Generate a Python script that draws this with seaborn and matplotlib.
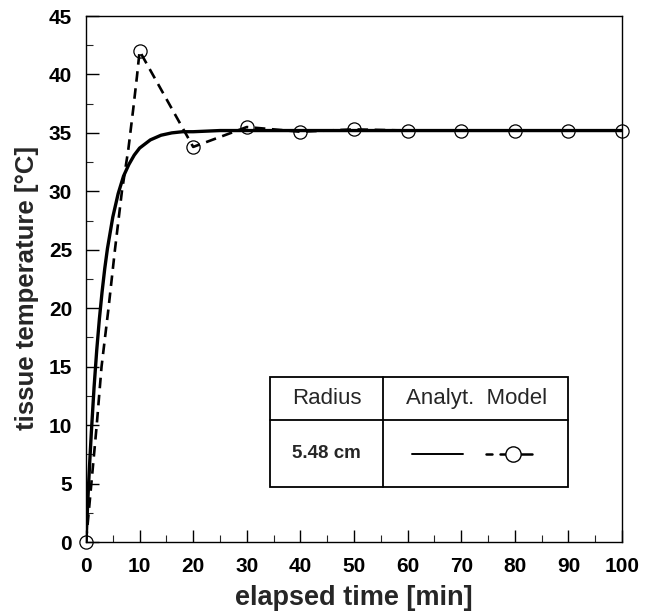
import matplotlib
matplotlib.use("Agg")
import matplotlib.pyplot as plt
import seaborn as sns
import pandas as pd
from matplotlib.patches import Rectangle
from matplotlib.lines import Line2D

sns.set_theme(style="white")
plt.rcParams['font.family'] = ['Liberation Sans', 'DejaVu Sans']

# Analytical solution
t_analyt = [0, 0.25, 0.5, 0.75, 1, 1.5, 2, 2.5, 3, 3.5, 4, 5, 6, 7, 8, 9, 10, 12, 14, 16, 18, 20,
            25, 30, 40, 50, 60, 70, 80, 90, 100]
T_analyt = [0, 2.6, 5.1, 7.3, 9.4, 13.2, 16.4, 19.1, 21.4, 23.4, 25.1, 27.8, 29.8, 31.3, 32.3, 33.1,
            33.7, 34.4, 34.8, 35.0, 35.1, 35.1, 35.2, 35.2, 35.2, 35.2, 35.2, 35.2, 35.2, 35.2, 35.2]

# Model (dashed line, finer in first interval)
t_model = [0, 1, 2, 2.9, 4.2, 5.4, 6.7, 7.9, 8.8, 9.5, 10, 20, 30, 40, 50, 60, 70, 80, 90, 100]
T_model = [0, 5, 10, 15, 20, 25, 30, 33.6, 37, 39.8, 42, 33.8, 35.5, 35.1, 35.3, 35.2, 35.2, 35.2, 35.2, 35.2]

# Model markers every 10 min
t_mark = [0, 10, 20, 30, 40, 50, 60, 70, 80, 90, 100]
T_mark = [0, 42, 33.8, 35.5, 35.1, 35.3, 35.2, 35.2, 35.2, 35.2, 35.2]

x_ticks = [0, 10, 20, 30, 40, 50, 60, 70, 80, 90, 100]
y_ticks = [0, 5, 10, 15, 20, 25, 30, 35, 40, 45]

df_a = pd.DataFrame({"t": t_analyt, "T": T_analyt})
df_m = pd.DataFrame({"t": t_model, "T": T_model})
df_k = pd.DataFrame({"t": t_mark, "T": T_mark})

fig = plt.figure(figsize=(6.49, 6.14), dpi=100)
ax = fig.add_axes([86/649, 72/614, (622-86)/649, (542-16)/614])

sns.lineplot(data=df_a, x="t", y="T", ax=ax, color="black", linewidth=2.4, sort=False)
sns.lineplot(data=df_m, x="t", y="T", ax=ax, color="black", linewidth=1.9, sort=False,
             linestyle=(0, (4, 2.5)))
ax.plot(df_k["t"], df_k["T"], linestyle="none", marker="o", markersize=9.5,
        markerfacecolor="none", markeredgecolor="black", markeredgewidth=0.9, zorder=5, clip_on=False)

ax.set_xlim(0, 100)
ax.set_ylim(0, 45)
ax.set_xticks(x_ticks)
ax.set_yticks(y_ticks)
ax.set_xticks([5, 15, 25, 35, 45, 55, 65, 75, 85, 95], minor=True)
ax.set_yticks([2.5, 7.5, 12.5, 17.5, 22.5, 27.5, 32.5, 37.5, 42.5], minor=True)
ax.tick_params(axis="both", which="major", direction="in", length=9, width=1, labelsize=15,
               colors="black")
ax.tick_params(axis="x", which="major", pad=11)
ax.tick_params(axis="y", which="major", pad=10)
ax.tick_params(axis="both", which="minor", direction="in", length=5, width=0.8)
ax.tick_params(bottom=True, left=True, top=False, right=False)
ax.tick_params(axis="both", which="minor", bottom=True, left=True)
for lab in ax.get_xticklabels() + ax.get_yticklabels():
    lab.set_fontweight("bold")
for s in ax.spines.values():
    s.set_color("black")
    s.set_linewidth(1)

ax.set_xlabel("elapsed time [min]", fontsize=19.5, fontweight="bold", labelpad=6)
ax.set_ylabel("tissue temperature [°C]", fontsize=18.5, fontweight="bold", labelpad=5)
ax.yaxis.set_label_coords(-0.088, 0.483)

# Legend table (in figure pixel coordinates converted to axes fraction)
def ax_x(px):
    return (px - 86) / (622 - 86)

def ax_y(py):
    return (542 - py) / (542 - 16)

x0, x1, xm = ax_x(270), ax_x(568), ax_x(383)
y_top, y_mid, y_bot = ax_y(377), ax_y(420), ax_y(487)
tr = ax.transAxes
ax.add_patch(Rectangle((x0, y_bot), x1 - x0, y_top - y_bot, transform=tr, facecolor="white",
                       edgecolor="black", linewidth=1.3, zorder=6))
ax.add_line(Line2D([x0, x1], [y_mid, y_mid], transform=tr, color="black", linewidth=1.3, zorder=7))
ax.add_line(Line2D([xm, xm], [y_bot, y_top], transform=tr, color="black", linewidth=1.3, zorder=7))
ax.text((x0 + xm) / 2, (y_mid + y_top) / 2, "Radius", transform=tr, ha="center", va="center",
        fontsize=16, zorder=8)
ax.text((xm + x1) / 2 + 0.002, (y_mid + y_top) / 2, "Analyt.  Model", transform=tr, ha="center",
        va="center", fontsize=16, zorder=8)
ax.text((x0 + xm) / 2, (y_bot + y_mid) / 2, "5.48 cm", transform=tr, ha="center", va="center",
        fontsize=13.5, fontweight="bold", zorder=8)
yr = (y_bot + y_mid) / 2
ax.add_line(Line2D([ax_x(412), ax_x(463)], [yr, yr], transform=tr, color="black", linewidth=1.4, zorder=8))
ax.add_line(Line2D([ax_x(486), ax_x(492)], [yr, yr], transform=tr, color="black", linewidth=1.8, zorder=8))
ax.add_line(Line2D([ax_x(500), ax_x(532)], [yr, yr], transform=tr, color="black", linewidth=1.8, zorder=8))
ax.plot([ax_x(513)], [yr], transform=tr, marker="o", markersize=11, markerfacecolor="white",
        markeredgecolor="black", markeredgewidth=1, zorder=9, clip_on=False)

fig.savefig("out.png", dpi=100)
